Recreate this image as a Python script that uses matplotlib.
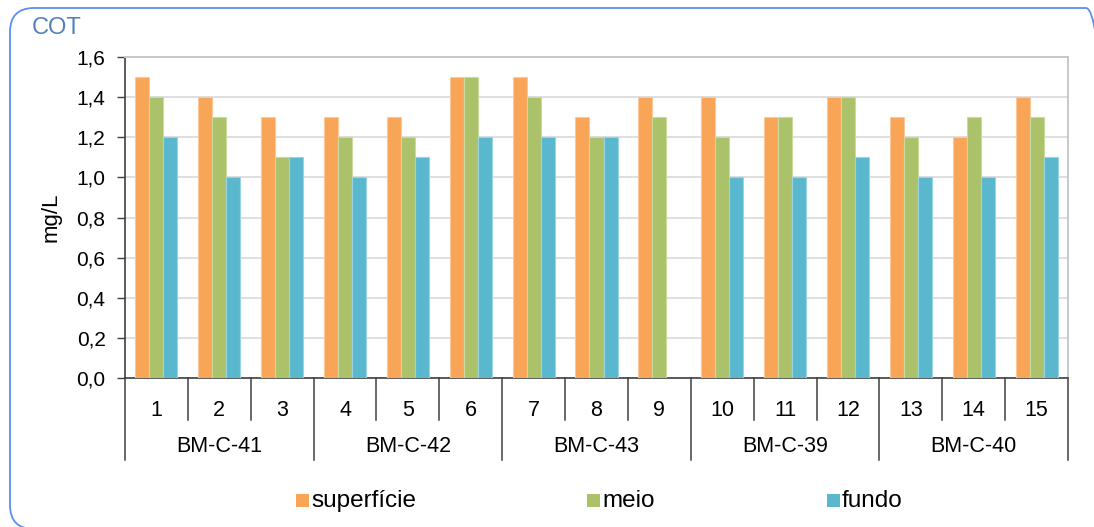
import matplotlib
matplotlib.use("Agg")
import matplotlib.pyplot as plt
import numpy as np
from matplotlib.patches import FancyBboxPatch, Rectangle
from matplotlib.transforms import IdentityTransform

plt.rcParams['font.family'] = ['Liberation Sans', 'DejaVu Sans']

# Data
samples = [str(i) for i in range(1, 16)]
stations = ["BM-C-41", "BM-C-42", "BM-C-43", "BM-C-39", "BM-C-40"]
series_names = ["superfície", "meio", "fundo"]
superficie = [1.5, 1.4, 1.3, 1.3, 1.3, 1.5, 1.5, 1.3, 1.4, 1.4, 1.3, 1.4, 1.3, 1.2, 1.4]
meio = [1.4, 1.3, 1.1, 1.2, 1.2, 1.5, 1.4, 1.2, 1.3, 1.2, 1.3, 1.4, 1.2, 1.3, 1.3]
fundo = [1.2, 1.0, 1.1, 1.0, 1.1, 1.2, 1.2, 1.2, np.nan, 1.0, 1.0, 1.1, 1.0, 1.0, 1.1]
yticks = [0.0, 0.2, 0.4, 0.6, 0.8, 1.0, 1.2, 1.4, 1.6]

colors = ["#F9A557", "#ABC26B", "#5AB8CE"]
edges = ["#FCC89A", "#CADB9E", "#9AD3E2"]

W, H = 1094, 527
fig = plt.figure(figsize=(W / 100, H / 100), dpi=100)

# Rounded frame around the chart (pixel coordinates, origin bottom-left)
fx0, fy0, fx1, fy1 = 10, 8, 1110, 529
frame = FancyBboxPatch((fx0, H - fy1), fx1 - fx0, fy1 - fy0,
                       boxstyle="round,pad=0,rounding_size=24",
                       transform=IdentityTransform(), facecolor="none",
                       edgecolor="#5B8FF0", linewidth=1.3, clip_on=False,
                       zorder=-1)
fig.patches.append(frame)

fig.text(32 / W, 1 - 28 / H, "COT", color="#4F81BD", fontsize=17,
         ha="left", va="center")

left, right, top, bottom = 125, 1068, 57, 378
ax = fig.add_axes([left / W, 1 - bottom / H, (right - left) / W, (bottom - top) / H])
ax.set_facecolor("none")

x = np.arange(1, len(samples) + 1)
bw = 0.223
for i, (vals, c, e) in enumerate(zip([superficie, meio, fundo], colors, edges)):
    ax.bar(x + (i - 1) * bw, vals, width=bw, color=c, edgecolor=e,
           linewidth=0.8, zorder=3)

ax.set_xlim(0.5, len(samples) + 0.5)
ax.set_ylim(0, 1.6)
ax.set_yticks(yticks)
ax.set_yticklabels([f"{v:.1f}".replace(".", ",") for v in yticks], fontsize=15)
ax.yaxis.grid(True, color="#D9D9D9", linewidth=1.2, zorder=0)
ax.set_xticks([])
ax.tick_params(axis="y", length=6, width=1, color="#404040", pad=8)
ax.set_ylabel("mg/L", fontsize=16, labelpad=11)

for s in ["top", "right"]:
    ax.spines[s].set_color("#C8C8C8")
    ax.spines[s].set_linewidth(1.4)
for s in ["left", "bottom"]:
    ax.spines[s].set_color("#404040")
    ax.spines[s].set_linewidth(1.2)

# Two-level category axis
tr = ax.get_xaxis_transform()
span = bottom - top
lvl1 = -42 / span
lvl2 = -82 / span
n_per = len(samples) // len(stations)
for k in range(len(samples) + 1):
    xp = k + 0.5
    y_end = lvl2 if k % n_per == 0 else lvl1
    ax.plot([xp, xp], [0, y_end], transform=tr, color="#404040",
            linewidth=1.1, clip_on=False)
for xi, lab in zip(x, samples):
    ax.text(xi, -32 / span, lab, transform=tr, ha="center",
            va="center", fontsize=15.5)
for g, st in enumerate(stations):
    xc = g * n_per + (n_per + 1) / 2
    ax.text(xc, -69 / span, st, transform=tr, ha="center",
            va="center", fontsize=15.5)

# Legend
leg_y = 1 - 500 / H
leg_x = [296, 587, 827]
sq = 13
for lx, name, c in zip(leg_x, series_names, colors):
    fig.patches.append(Rectangle((lx / W, leg_y - sq / 2 / H), sq / W, sq / H,
                                 transform=fig.transFigure, facecolor=c,
                                 edgecolor="none"))
    fig.text((lx + sq + 2) / W, leg_y - 1 / H, name, fontsize=17.5,
             ha="left", va="center")

fig.savefig("out.png", dpi=100)
